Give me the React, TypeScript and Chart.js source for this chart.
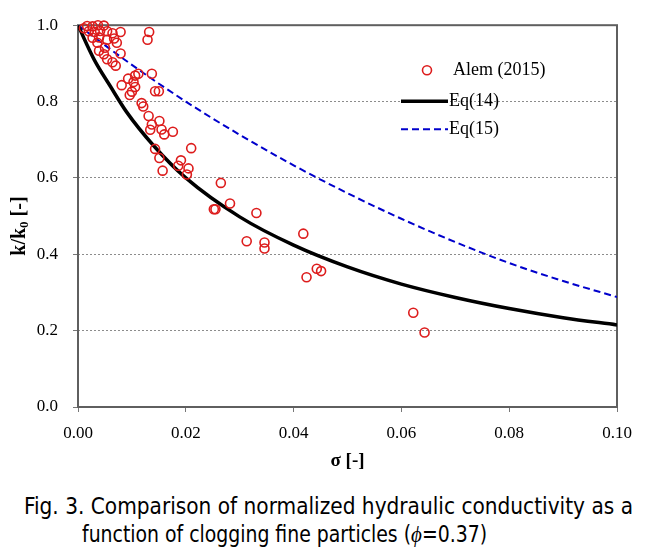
import React, { useEffect, useLayoutEffect, useRef } from "react";
import { Chart, registerables } from "chart.js";

Chart.register(...registerables);

// ---------------- data ----------------
const alemSigma = [
  0.0011, 0.0017, 0.0027, 0.0037, 0.0048,
  0.0020, 0.0031, 0.0041, 0.0054, 0.0064, 0.0079,
  0.0027, 0.0039, 0.0054, 0.0067, 0.0072, 0.0036,
  0.0039, 0.0048, 0.0079, 0.0054, 0.0064, 0.0070, 0.0050,
  0.0132, 0.0129,
  0.0137, 0.0112, 0.0106, 0.0093, 0.0081, 0.0103, 0.0106, 0.0100, 0.0096,
  0.0143, 0.0150, 0.0118, 0.0121,
  0.0131, 0.0151, 0.0137, 0.0134, 0.0155, 0.0160, 0.0176,
  0.0143, 0.0151, 0.0157, 0.0210, 0.0191, 0.0186, 0.0205, 0.0202,
  0.0265, 0.0282, 0.0252, 0.0255,
  0.0331, 0.0313, 0.0346, 0.0346, 0.0418, 0.0443, 0.0451, 0.0424,
  0.0622, 0.0643,
];
const alemK = [
  0.992, 0.998, 0.997, 1.0, 0.999,
  0.984, 0.982, 0.985, 0.984, 0.979, 0.982,
  0.967, 0.968, 0.962, 0.965, 0.954, 0.954,
  0.933, 0.924, 0.926, 0.911, 0.903, 0.894, 0.941,
  0.982, 0.962,
  0.873, 0.873, 0.868, 0.86, 0.843, 0.851, 0.838, 0.826, 0.817,
  0.827, 0.827, 0.796, 0.787,
  0.762, 0.749, 0.74, 0.726, 0.727, 0.714, 0.721,
  0.676, 0.652, 0.619, 0.678, 0.646, 0.632, 0.625, 0.609,
  0.587, 0.533, 0.518, 0.518,
  0.508, 0.434, 0.431, 0.415, 0.454, 0.362, 0.356, 0.34,
  0.247, 0.195,
];

const eq14Sigma = [0, 0.003, 0.006, 0.009, 0.014, 0.02, 0.03, 0.04, 0.05, 0.06, 0.07, 0.08, 0.09, 0.1];
const eq14K = [1.0, 0.91, 0.84, 0.773, 0.685, 0.6, 0.498, 0.424, 0.367, 0.322, 0.287, 0.258, 0.234, 0.215];

const eq15Sigma = [0, 0.01, 0.02, 0.03, 0.04, 0.05, 0.06, 0.07, 0.08, 0.09, 0.1];
const eq15K = [1.0, 0.896, 0.8, 0.713, 0.633, 0.56, 0.493, 0.432, 0.377, 0.33, 0.288];

const xTickValues = [0, 0.02, 0.04, 0.06, 0.08, 0.1];
const yTickValues = [0, 0.2, 0.4, 0.6, 0.8, 1.0];

const seriesNames = ["Alem (2015)", "Eq(14)", "Eq(15)"];
const xTitle = "σ [-]";
const yTitleParts = ["k/k", "0", " [-]"];
const captionLine1 = "Fig. 3. Comparison of normalized hydraulic conductivity as a";
const captionLine2a = "function of clogging fine particles (";
const captionPhi = "ϕ";
const captionLine2b = "=0.37)";

// ---------------- styling ----------------
const SERIF = "'Liberation Serif', 'Times New Roman', serif";
const CAPTION_FONT = "'Liberation Sans Narrow', 'DejaVu Sans Condensed', 'Roboto', sans-serif";
const RED = "#dd1c1c";
const BLUE = "#0000cc";

const framePlugin = {
  id: "frame",
  beforeDatasetsDraw(chart: any) {
    const { ctx, chartArea } = chart;
    ctx.save();
    ctx.strokeStyle = "#5f5f5f";
    ctx.lineWidth = 2;
    ctx.strokeRect(chartArea.left, chartArea.top, chartArea.right - chartArea.left, chartArea.bottom - chartArea.top);
    ctx.restore();
  },
};

const yTitlePlugin = {
  id: "yTitle",
  afterDraw(chart: any) {
    const { ctx, chartArea } = chart;
    const cy = (chartArea.top + chartArea.bottom) / 2 + 10;
    const cx = 20;
    const big = `bold 20px ${SERIF}`;
    const small = `bold 13px ${SERIF}`;
    ctx.save();
    ctx.translate(cx, cy);
    ctx.rotate(-Math.PI / 2);
    ctx.font = big;
    const w1 = ctx.measureText(yTitleParts[0]).width;
    const w3 = ctx.measureText(yTitleParts[2]).width;
    ctx.font = small;
    const w2 = ctx.measureText(yTitleParts[1]).width;
    let x = -(w1 + w2 + w3) / 2;
    ctx.fillStyle = "#000";
    ctx.textBaseline = "middle";
    ctx.textAlign = "left";
    ctx.font = big;
    ctx.fillText(yTitleParts[0], x, 0);
    x += w1;
    ctx.font = small;
    ctx.fillText(yTitleParts[1], x, 5);
    x += w2;
    ctx.font = big;
    ctx.fillText(yTitleParts[2], x, 0);
    ctx.restore();
  },
};

const legendPlugin = {
  id: "insideLegend",
  afterDraw(chart: any) {
    const { ctx, chartArea } = chart;
    const L = chartArea.left;
    const T = chartArea.top;
    const ds = chart.data.datasets;
    ctx.save();
    ctx.font = `18px ${SERIF}`;
    ctx.fillStyle = "#000";
    ctx.textBaseline = "middle";
    ctx.textAlign = "left";
    const y0 = T + 45;
    ctx.beginPath();
    ctx.arc(L + 349, y0, 4.5, 0, Math.PI * 2);
    ctx.strokeStyle = ds[0].pointBorderColor;
    ctx.lineWidth = ds[0].pointBorderWidth;
    ctx.stroke();
    ctx.fillText(ds[0].label, L + 375, y0);
    const rows = [T + 76, T + 104];
    [1, 2].forEach((di, j) => {
      const d = ds[di];
      ctx.beginPath();
      ctx.setLineDash(d.borderDash || []);
      ctx.strokeStyle = d.borderColor;
      ctx.lineWidth = d.borderWidth;
      ctx.moveTo(L + 323, rows[j]);
      ctx.lineTo(L + 370, rows[j]);
      ctx.stroke();
      ctx.setLineDash([]);
      ctx.fillText(d.label, L + 371, rows[j]);
    });
    ctx.restore();
  },
};

function FitLine(props: { left: number; top: number; width: number; children: any }) {
  const ref = useRef<HTMLDivElement>(null);
  useLayoutEffect(() => {
    const el = ref.current;
    if (!el) return;
    el.style.transform = "none";
    const w = el.getBoundingClientRect().width;
    if (w > 0) el.style.transform = `scaleX(${props.width / w})`;
  }, [props.width]);
  return (
    <div
      ref={ref}
      style={{
        position: "absolute",
        left: props.left,
        top: props.top,
        whiteSpace: "nowrap",
        fontFamily: CAPTION_FONT,
        fontSize: 23,
        lineHeight: "28px",
        color: "#000",
        transformOrigin: "0 0",
        display: "inline-block",
      }}
    >
      {props.children}
    </div>
  );
}

export default function App() {
  const canvasRef = useRef<HTMLCanvasElement>(null);

  useEffect(() => {
    if (!canvasRef.current) return;
    const chart = new Chart(canvasRef.current, {
      type: "scatter",
      data: {
        datasets: [
          {
            label: seriesNames[0],
            data: alemSigma.map((x, i) => ({ x, y: alemK[i] })),
            showLine: false,
            pointStyle: "circle",
            pointRadius: 4.5,
            pointBorderWidth: 1.6,
            pointBorderColor: RED,
            pointBackgroundColor: "rgba(0,0,0,0)",
            borderColor: RED,
            backgroundColor: "rgba(0,0,0,0)",
            clip: false,
          } as any,
          {
            label: seriesNames[1],
            data: eq14Sigma.map((x, i) => ({ x, y: eq14K[i] })),
            showLine: true,
            pointRadius: 0,
            borderColor: "#000000",
            borderWidth: 3.5,
            cubicInterpolationMode: "monotone",
            fill: false,
          } as any,
          {
            label: seriesNames[2],
            data: eq15Sigma.map((x, i) => ({ x, y: eq15K[i] })),
            showLine: true,
            pointRadius: 0,
            borderColor: BLUE,
            borderWidth: 2,
            borderDash: [7, 4],
            cubicInterpolationMode: "monotone",
            fill: false,
          } as any,
        ],
      },
      options: {
        responsive: false,
        animation: false,
        events: [],
        layout: { padding: { left: 0, right: 36, top: 17, bottom: 0 } },
        plugins: {
          legend: { display: false },
          tooltip: { enabled: false },
          title: { display: false },
        },
        scales: {
          x: {
            type: "linear",
            min: 0,
            max: 0.1,
            afterBuildTicks: (s: any) => {
              s.ticks = xTickValues.map((v) => ({ value: v }));
            },
            afterFit: (s: any) => {
              s.height = 73;
            },
            ticks: {
              callback: (v: any) => Number(v).toFixed(2),
              color: "#000",
              font: { size: 17, family: SERIF },
              padding: 11,
              maxRotation: 0,
              autoSkip: false,
            },
            grid: {
              drawOnChartArea: false,
              drawTicks: true,
              tickLength: 5,
              tickColor: "#777",
              tickWidth: 1,
            },
            border: { display: false },
            title: {
              display: true,
              text: xTitle,
              color: "#000",
              font: { size: 19, weight: "bold", family: SERIF },
              padding: { top: 0, bottom: 8 },
            },
          },
          y: {
            type: "linear",
            min: 0,
            max: 1,
            afterBuildTicks: (s: any) => {
              s.ticks = yTickValues.map((v) => ({ value: v }));
            },
            afterFit: (s: any) => {
              s.width = 78;
            },
            ticks: {
              callback: (v: any) => Number(v).toFixed(1),
              color: "#000",
              font: { size: 17, family: SERIF },
              padding: 15,
            },
            grid: {
              display: true,
              drawOnChartArea: true,
              color: "#8c8c8c",
              lineWidth: 1,
              tickLength: 5,
              tickColor: "#777",
              tickWidth: 1,
              tickBorderDash: [],
            },
            border: { display: false, dash: [2, 2] },
          },
        },
      } as any,
      plugins: [framePlugin, yTitlePlugin, legendPlugin],
    });
    return () => chart.destroy();
  }, []);

  return (
    <div
      style={{
        position: "absolute",
        left: 0,
        top: 0,
        width: 653,
        height: 553,
        background: "#fff",
        overflow: "hidden",
      }}
    >
      <canvas ref={canvasRef} width={653} height={480} style={{ display: "block", width: 653, height: 480 }} />
      <FitLine left={24} top={492} width={609}>
        {captionLine1}
      </FitLine>
      <FitLine left={82} top={520} width={405}>
        {captionLine2a}
        <span style={{ fontStyle: "italic", fontFamily: SERIF }}>{captionPhi}</span>
        {captionLine2b}
      </FitLine>
    </div>
  );
}
